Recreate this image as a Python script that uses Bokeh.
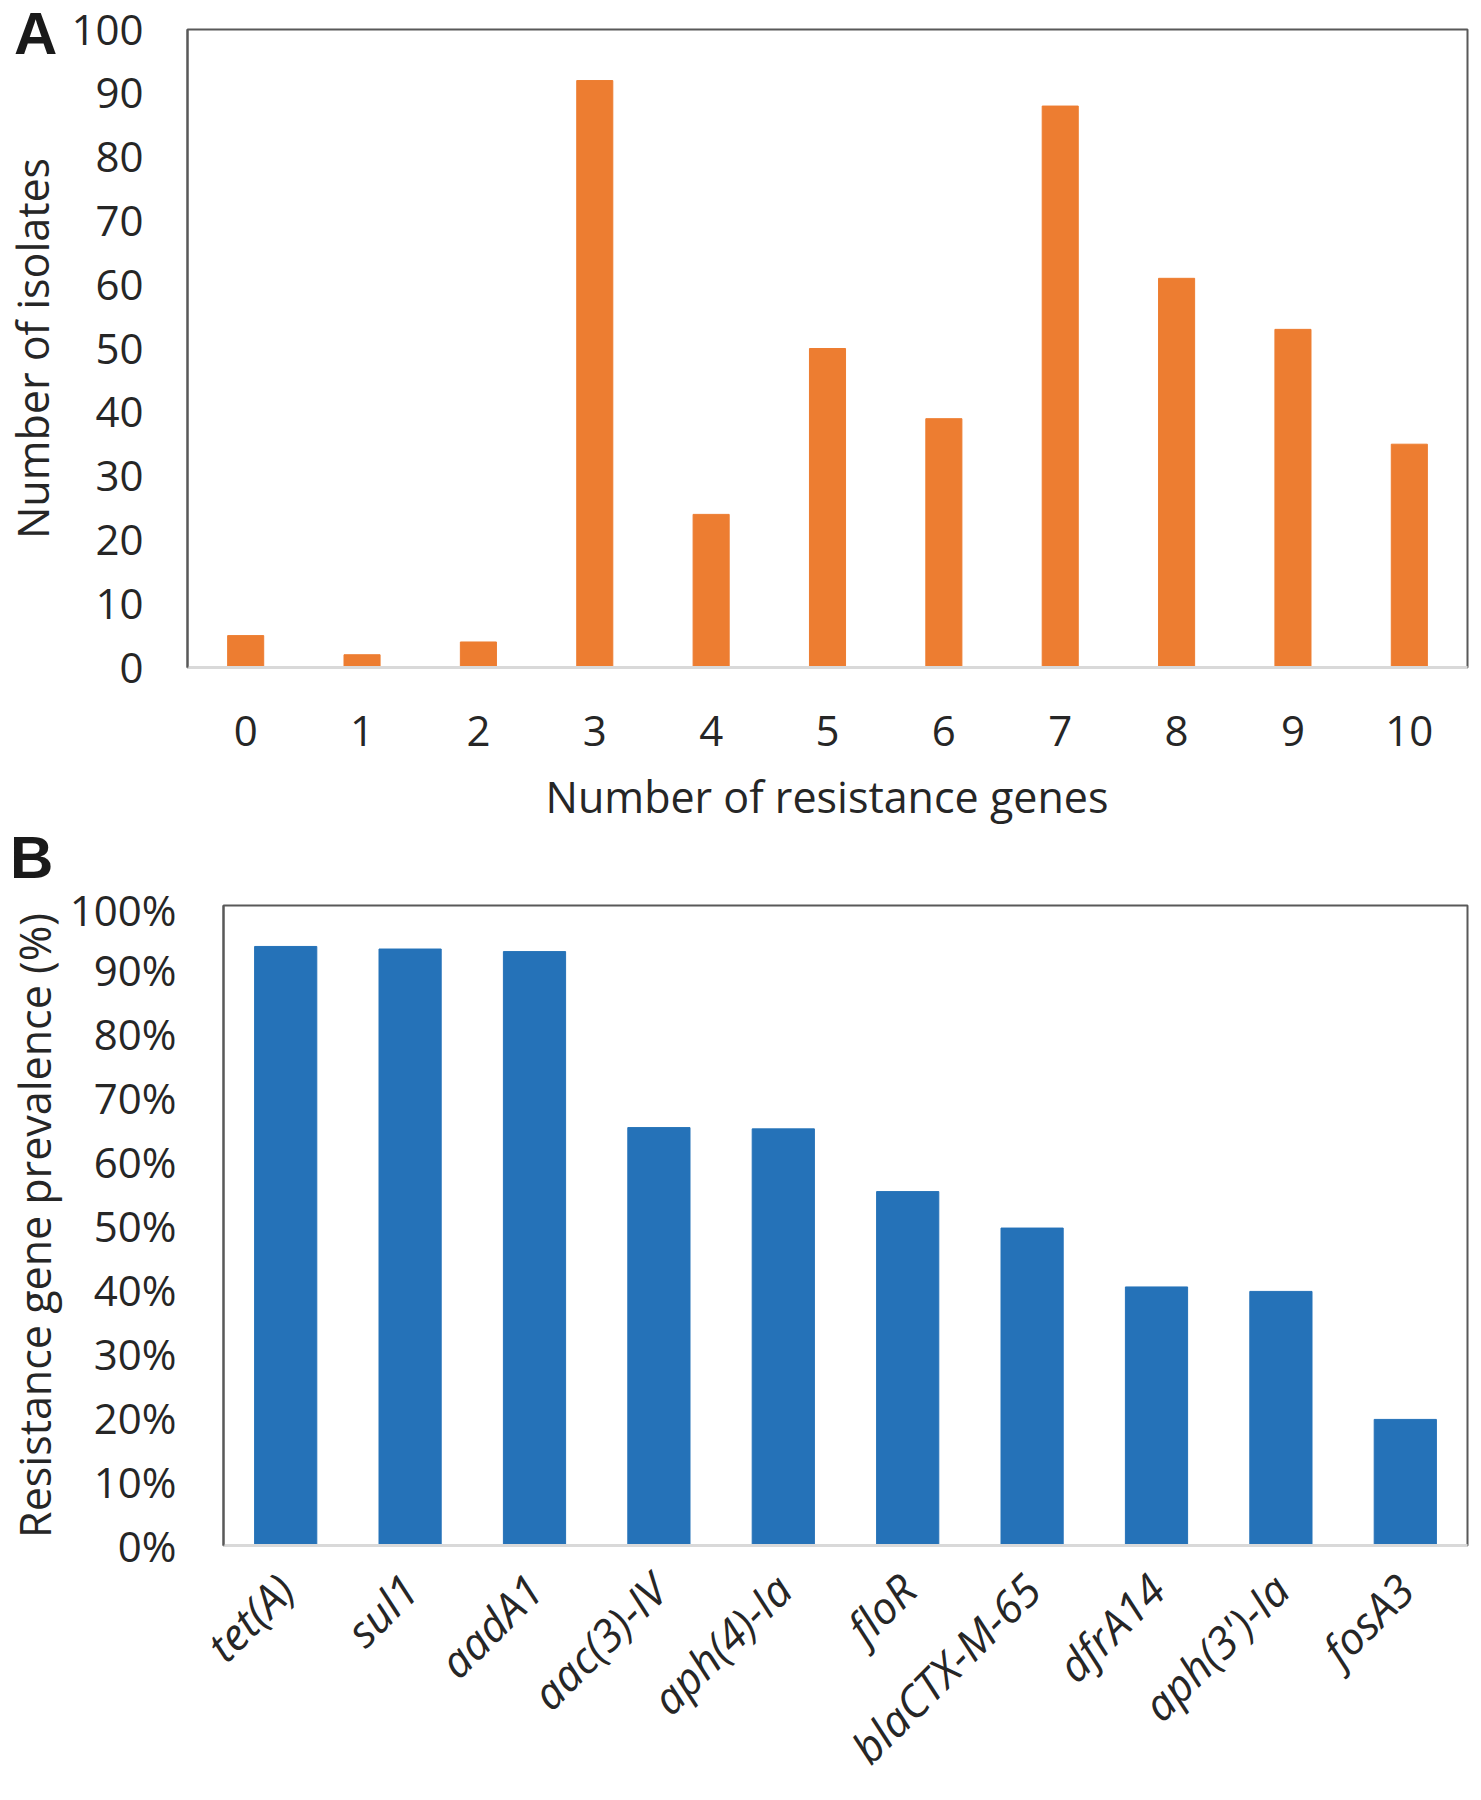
import math
from bokeh.plotting import figure
from bokeh.models import (ColumnDataSource, FactorRange, Range1d, FixedTicker,
                          PrintfTickFormatter, Div)
from bokeh.layouts import column, row
from bokeh.embed import file_html
from bokeh.resources import INLINE

# ---------------- data ----------------
gene_counts = ["0", "1", "2", "3", "4", "5", "6", "7", "8", "9", "10"]
isolates = [5, 2, 4, 92, 24, 50, 39, 88, 61, 53, 35]
y_ticks_a = [0, 10, 20, 30, 40, 50, 60, 70, 80, 90, 100]

genes = ["tet(A)", "sul1", "aadA1", "aac(3)-IV", "aph(4)-Ia", "floR",
         "blaCTX-M-65", "dfrA14", "aph(3')-Ia", "fosA3"]
prevalence = [93.6, 93.2, 92.8, 65.3, 65.1, 55.3, 49.6, 40.4, 39.7, 19.7]
y_ticks_b = [0, 10, 20, 30, 40, 50, 60, 70, 80, 90, 100]

# ---------------- style ----------------
FONT = "Open Sans"
TXT = "#262626"
DARK = "#595959"
LIGHT = "#d9d9d9"
ORANGE = "#ED7D31"
BLUE = "#2572B8"
FS = "42px"
TITLE_FS = "43px"


def style_axis(ax, standoff, line_color, size=FS):
    ax.major_label_text_font = FONT
    ax.major_label_text_font_size = size
    ax.major_label_text_color = TXT
    ax.major_label_standoff = standoff
    ax.major_tick_line_color = None
    ax.minor_tick_line_color = None
    ax.major_tick_out = 0
    ax.major_tick_in = 0
    ax.axis_line_color = line_color
    ax.axis_line_width = 2


def style_title(ax, label, standoff):
    ax.axis_label = label
    ax.axis_label_text_font = FONT
    ax.axis_label_text_font_size = TITLE_FS
    ax.axis_label_text_font_style = "normal"
    ax.axis_label_text_color = TXT
    ax.axis_label_standoff = standoff


def letter_div(letter, line_height, pad, margin, height):
    html = ('<div style="font-family:\'Liberation Sans\',Arial,sans-serif;'
            'font-size:60px;font-weight:bold;color:#1a1a1a;'
            f'line-height:{line_height}px;padding-left:{pad}px;margin:0;">{letter}</div>')
    return Div(text=html, width=90, height=height, margin=margin)


# ---------------- panel A ----------------
HA = 775
src_a = ColumnDataSource(dict(n=gene_counts, v=isolates))
pa = figure(width=1473, height=HA,
            x_range=FactorRange(*gene_counts), y_range=Range1d(0, 100),
            output_backend="svg", toolbar_location=None,
            min_border_left=187, min_border_right=6,
            min_border_top=29, min_border_bottom=HA - 667)
pa.vbar(x="n", top="v", width=0.31, source=src_a, color=ORANGE)
pa.xgrid.visible = False
pa.ygrid.visible = False
pa.outline_line_color = DARK
pa.outline_line_width = 2

pa.yaxis.ticker = FixedTicker(ticks=y_ticks_a)
style_axis(pa.yaxis[0], 44, DARK)
style_title(pa.yaxis[0], "Number of isolates", 6)
style_axis(pa.xaxis[0], 48, LIGHT)
pa.xaxis.axis_line_width = 3

A_H = 68
div_a = letter_div("A", 68, 14, (-HA, 0, HA - A_H, 0), A_H)

XT_H = 828 - HA
div_xtitle = Div(
    text=('<div style="font-family:\'Open Sans\';font-size:43px;line-height:43px;'
          'color:#262626;text-align:center;white-space:nowrap;margin:0;width:1280px;">'
          'Number of resistance genes</div>'),
    width=1280, height=XT_H, margin=(0, 0, 0, 187))

div_b = letter_div("B", 60, 10, (0, 0, 0, 0), 52)

# ---------------- panel B ----------------
TOP_B = 828 + 52
HB = 1800 - TOP_B
src_b = ColumnDataSource(dict(g=genes, p=prevalence))
pb = figure(width=1473, height=HB,
            x_range=FactorRange(*genes), y_range=Range1d(0, 100),
            output_backend="svg", toolbar_location=None,
            min_border_left=223, min_border_right=6,
            min_border_top=905 - TOP_B, min_border_bottom=1800 - 1546)
pb.vbar(x="g", top="p", width=0.5, source=src_b, color=BLUE)
pb.xgrid.visible = False
pb.ygrid.visible = False
pb.outline_line_color = DARK
pb.outline_line_width = 2

pb.yaxis.ticker = FixedTicker(ticks=y_ticks_b)
pb.yaxis.formatter = PrintfTickFormatter(format="%d%%")
style_axis(pb.yaxis[0], 47, DARK)
style_title(pb.yaxis[0], "Resistance gene prevalence (%)", 3)
style_axis(pb.xaxis[0], 36, LIGHT, size="44px")
pb.xaxis.axis_line_width = 3
pb.xaxis.major_label_orientation = math.pi / 4
pb.xaxis.major_label_text_font_style = "italic"

layout = column(row(pa), div_a, div_xtitle, div_b, row(pb), spacing=0)
open("out.html", "w").write(file_html(layout, INLINE))
